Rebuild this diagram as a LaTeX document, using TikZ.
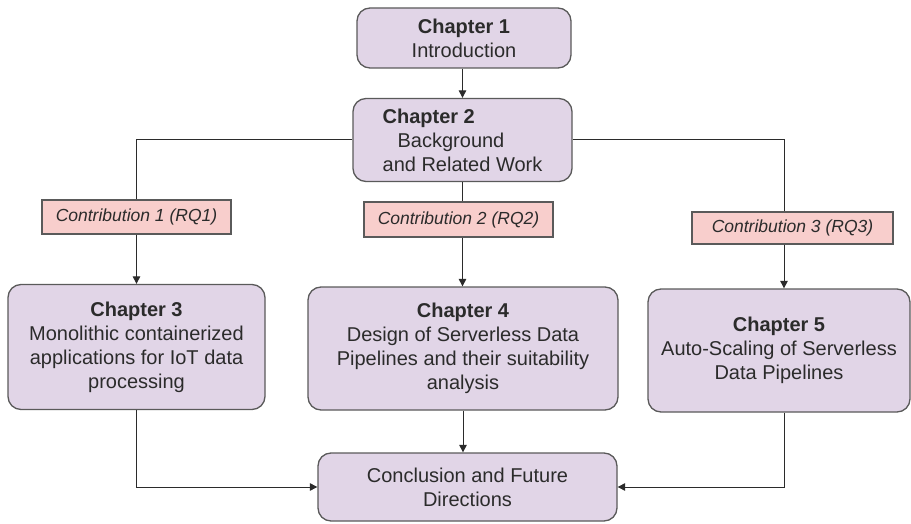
\documentclass[tikz,border=0pt]{standalone}
\usepackage{fontspec}
\setmainfont{Liberation Sans}
\usetikzlibrary{arrows.meta}
\definecolor{chapfill}{HTML}{E1D5E7}
\definecolor{contribfill}{HTML}{F8CECC}
\definecolor{edgegray}{HTML}{5A5A5A}
\definecolor{inkgray}{HTML}{2B2B2B}
\begin{document}
\begin{tikzpicture}[x=1pt,y=-1pt,
  chapbox/.style={draw=edgegray, fill=chapfill, line width=1.3pt, rounded corners=13pt,
    align=center, inner sep=0pt, text=inkgray,
    font=\fontsize{20}{24}\selectfont},
  contribbox/.style={draw=edgegray, fill=contribfill, line width=1.1pt,
    inner sep=0pt, text=inkgray, font=\fontsize{17.5}{20}\selectfont\itshape},
  link/.style={draw=inkgray, line width=1pt},
  arrow/.style={link, -{Triangle[length=7.5pt,width=7.5pt]}}]
\useasboundingbox (0,0) rectangle (911,524);

% chapter boxes
\node[chapbox, minimum width=214pt, minimum height=60pt] (ch1) at (464,38)
  {\textbf{Chapter 1}\\Introduction};
\node[chapbox, minimum width=219pt, minimum height=83pt, align=left] (ch2) at (462.5,140)
  {\textbf{Chapter 2}\\\hspace*{15pt}Background\\and Related Work};
\node[chapbox, minimum width=257pt, minimum height=125pt] (ch3) at (136.5,347)
  {\textbf{Chapter 3}\\Monolithic containerized\\applications for IoT data\\processing};
\node[chapbox, minimum width=310pt, minimum height=123pt] (ch4) at (463,348.5)
  {\textbf{Chapter 4}\\Design of Serverless Data\\Pipelines and their suitability\\analysis};
\node[chapbox, minimum width=262pt, minimum height=123pt] (ch5) at (779,350.5)
  {\textbf{Chapter 5}\\Auto-Scaling of Serverless\\Data Pipelines};
\node[chapbox, minimum width=299pt, minimum height=68pt] (concl) at (467.5,487)
  {Conclusion and Future\\Directions};

% contribution labels
\node[contribbox, minimum width=189pt, minimum height=34pt] (c1) at (136.5,217)
  {Contribution 1 (RQ1)};
\node[contribbox, minimum width=189pt, minimum height=35pt] (c2) at (458.5,219.5)
  {Contribution 2 (RQ2)};
\node[contribbox, minimum width=201pt, minimum height=32pt] (c3) at (792.5,228)
  {Contribution 3 (RQ3)};

% vertical guide for the right-hand branch
\coordinate (rx) at (784,0);

% connectors
\draw[arrow] (ch1.south -| ch2) -- (ch2.north);
\draw[link] (ch2.west) -| (c1.north);
\draw[arrow] (c1.south) -- (ch3.north);
\draw[link] (ch2.south) -- (ch2.south |- c2.north);
\draw[arrow] (c2.south -| ch2.south) -- (ch4.north -| ch2.south);
\draw[link] (ch2.east) -| (c3.north -| rx);
\draw[arrow] (c3.south -| rx) -- (ch5.north -| rx);
\draw[arrow] (ch3.south) |- (concl.west);
\draw[arrow] (ch4.south) -- (concl.north -| ch4.south);
\draw[arrow] (ch5.south -| rx) |- (concl.east);
\end{tikzpicture}
\end{document}
